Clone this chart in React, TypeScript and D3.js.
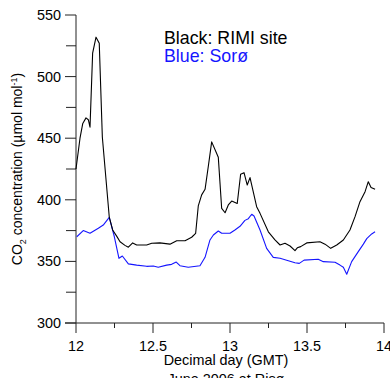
import React from "react";
import * as d3 from "d3";

const rimiDay = [12.0,12.026,12.044,12.065,12.08,12.091,12.108,12.13,12.151,12.171,12.216,12.238,12.264,12.286,12.318,12.34,12.368,12.394,12.459,12.492,12.545,12.61,12.654,12.708,12.751,12.777,12.794,12.816,12.838,12.859,12.881,12.924,12.946,12.968,12.989,13.011,13.047,13.069,13.091,13.112,13.13,13.173,13.195,13.249,13.292,13.325,13.357,13.39,13.422,13.437,13.459,13.498,13.584,13.617,13.654,13.693,13.736,13.779,13.812,13.844,13.877,13.898,13.916,13.942];
const rimiCO2 = [425,450,462,466.5,465,459,519,532,527,451,386,375.5,370.5,366,363,361.5,365,363.3,363.3,364.7,365,364,366.8,366.8,369.6,372.8,395,404,408.5,427,447,434.5,393,389.5,395.8,399,397,420.7,422,412,418,394.4,389,374,367.4,363.3,364.7,362.5,358.7,361,362,365,366,364,360.6,363.3,367.4,375.5,386.3,398.5,406.6,414.7,410,408.5];

const soroDay = [12.005,12.047,12.091,12.145,12.177,12.216,12.249,12.279,12.301,12.34,12.394,12.459,12.502,12.534,12.589,12.621,12.651,12.675,12.729,12.805,12.838,12.87,12.892,12.924,12.946,13.0,13.032,13.065,13.097,13.119,13.141,13.156,13.195,13.238,13.281,13.325,13.368,13.422,13.45,13.481,13.573,13.606,13.682,13.714,13.736,13.758,13.79,13.833,13.866,13.888,13.92,13.942];
const soroCO2 = [370,375,372.8,376.9,379.5,385.8,370,352.5,354.4,348,347,346,346.3,345.2,347,347.6,349.5,346.5,345.2,346.5,353.3,367.4,371.4,374.7,372.8,372.8,375.5,378.5,383.3,384.7,388.3,386.9,375.5,360.6,353.3,352.5,351,348.9,348.4,351,351.7,349.8,349.3,347,345.2,339.6,349.8,357.9,364,368.5,372.3,374];

const xMajor = [12, 12.5, 13, 13.5, 14];
const xMinor = [12.25, 12.75, 13.25, 13.75];
const xLabels = ["12", "12.5", "13", "13.5", "14"];
const yMajor = [300, 350, 400, 450, 500, 550];
const yMinor = [325, 375, 425, 475, 525];

export default function App() {
  const x = d3.scaleLinear().domain([12, 14]).range([76, 384]);
  const y = d3.scaleLinear().domain([300, 550]).range([323, 15]);
  const line = d3.line<[number, number]>().x(d => x(d[0])).y(d => y(d[1]));
  const rimi = line(rimiDay.map((d, i) => [d, rimiCO2[i]] as [number, number])) || "";
  const soro = line(soroDay.map((d, i) => [d, soroCO2[i]] as [number, number])) || "";
  const font = "'Liberation Sans', Arial, sans-serif";
  const axisColor = "#222";
  return (
    <svg width={390} height={378} style={{ position: "absolute", left: 0, top: 0, background: "#fff" }} fontFamily={font}>
      <rect x={0} y={0} width={390} height={378} fill="#fff" />
      {/* y axis */}
      <line x1={x(12)} x2={x(12)} y1={y(550)} y2={y(300)} stroke={axisColor} strokeWidth={1} />
      {yMajor.map(v => (
        <g key={"ym" + v}>
          <line x1={x(12) - 11} x2={x(12)} y1={y(v)} y2={y(v)} stroke={axisColor} strokeWidth={1} />
          <text x={61} y={y(v)} dy="0.35em" textAnchor="end" fontSize={14.4} fill="#000">{v}</text>
        </g>
      ))}
      {yMinor.map(v => (
        <line key={"yn" + v} x1={x(12) - 10} x2={x(12)} y1={y(v)} y2={y(v)} stroke={axisColor} strokeWidth={1} />
      ))}
      {/* x axis */}
      <line x1={65} x2={x(14)} y1={y(300)} y2={y(300)} stroke={axisColor} strokeWidth={1} />
      {xMajor.map((v, i) => (
        <g key={"xm" + v}>
          <line x1={x(v)} x2={x(v)} y1={y(300)} y2={y(300) + 10} stroke={axisColor} strokeWidth={1} />
          <text x={x(v)} y={351} textAnchor="middle" fontSize={14.4} fill="#000">{xLabels[i]}</text>
        </g>
      ))}
      {xMinor.map(v => (
        <line key={"xn" + v} x1={x(v)} x2={x(v)} y1={y(300)} y2={y(300) + 5} stroke={axisColor} strokeWidth={1} />
      ))}
      <text x={x(13) - 4} y={364.5} textAnchor="middle" fontSize={14.4} fill="#000">Decimal day (GMT)</text>
      <text x={x(13) - 4} y={384} textAnchor="middle" fontSize={14.4} fill="#000">June 2006 at Risø</text>
      {/* y label */}
      <text transform={`translate(22,${(y(300) + y(550)) / 2}) rotate(-90)`} textAnchor="middle" fontSize={14} fill="#000">
        CO<tspan fontSize={9} dy={4}>2</tspan><tspan dy={-4}> concentration (µmol mol</tspan><tspan fontSize={9} dy={-5}>-1</tspan><tspan dy={5}>)</tspan>
      </text>
      {/* data */}
      <path d={soro} fill="none" stroke="#1515ff" strokeWidth={1.1} strokeLinejoin="round" />
      <path d={rimi} fill="none" stroke="#000" strokeWidth={1.1} strokeLinejoin="round" />
      {/* legend */}
      <text x={164} y={44} fontSize={17.8} fill="#000">Black: RIMI site</text>
      <text x={164} y={62} fontSize={17.8} fill="#1515ff">Blue: Sorø</text>
    </svg>
  );
}
